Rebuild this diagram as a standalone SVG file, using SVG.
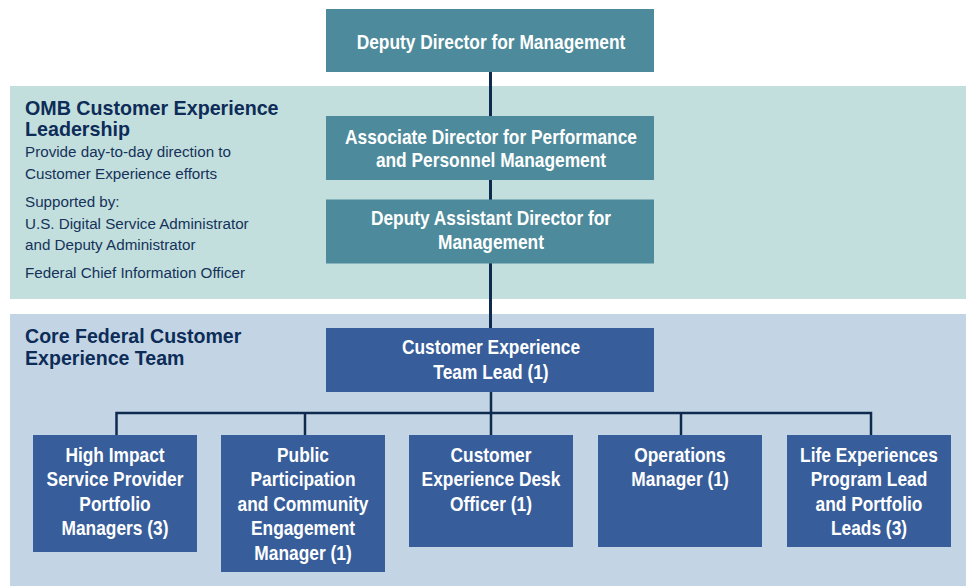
<svg xmlns="http://www.w3.org/2000/svg" width="970" height="586" viewBox="0 0 970 586">
<style>
.band1{fill:#c3dfdd}
.band2{fill:#c3d5e4}
.teal{fill:#4d8a9b}
.blue{fill:#375d9a}
.bt{font-family:"Liberation Sans",Arial,sans-serif;font-weight:bold;font-size:19.5px;fill:#ffffff;text-anchor:middle}
.hd{font-family:"Liberation Sans",Arial,sans-serif;font-weight:bold;font-size:20.5px;fill:#0d2c58}
.rg{font-family:"Liberation Sans",Arial,sans-serif;font-size:15.2px;fill:#15325a}
.ln{stroke:#0f2a4f;stroke-width:3;fill:none}
.ln2{stroke:#0f2a4f;stroke-width:2.5;fill:none}
</style>
<rect width="970" height="586" fill="#ffffff"/>
<g id="band-leadership">
<rect class="band1" x="10" y="86" width="956" height="213"/>
<text class="hd" transform="translate(25,114.5) scale(0.96,1)">OMB Customer Experience</text>
<text class="hd" transform="translate(25,136) scale(0.96,1)">Leadership</text>
<text class="rg"><tspan x="25" y="157">Provide day-to-day direction to</tspan><tspan x="25" y="179">Customer Experience efforts</tspan><tspan x="25" y="206.5">Supported by:</tspan><tspan x="25" y="228.5">U.S. Digital Service Administrator</tspan><tspan x="25" y="250">and Deputy Administrator</tspan><tspan x="25" y="278">Federal Chief Information Officer</tspan></text>
</g>
<g id="band-core">
<rect class="band2" x="10" y="314" width="956" height="272"/>
<text class="hd" transform="translate(25,343) scale(0.955,1)">Core Federal Customer</text>
<text class="hd" transform="translate(25,364.5) scale(0.955,1)">Experience Team</text>
</g>
<g id="connectors">
<line class="ln" x1="490.5" y1="72" x2="490.5" y2="116"/>
<line class="ln" x1="490.5" y1="180" x2="490.5" y2="200"/>
<line class="ln" x1="490.5" y1="263" x2="490.5" y2="328"/>
<line class="ln2" x1="491" y1="392" x2="491" y2="435"/>
<polyline class="ln2" points="116.5,435 116.5,413 871,413 871,435"/>
<line class="ln2" x1="305" y1="413" x2="305" y2="435"/>
<line class="ln2" x1="681" y1="413" x2="681" y2="435"/>
</g>
<g id="deputy-director">
<rect class="teal" x="326" y="9" width="328" height="63"/>
<text class="bt" transform="translate(491,49) scale(0.89,1)">Deputy Director for Management</text>
</g>
<g id="associate-director">
<rect class="teal" x="326" y="116" width="328" height="64"/>
<text class="bt" transform="translate(491,143.5) scale(0.89,1)"><tspan x="0" y="0">Associate Director for Performance</tspan><tspan x="0" y="24">and Personnel Management</tspan></text>
</g>
<g id="deputy-assistant-director">
<rect class="teal" x="326" y="199.5" width="328" height="64"/>
<text class="bt" transform="translate(491,224.5) scale(0.89,1)"><tspan x="0" y="0">Deputy Assistant Director for</tspan><tspan x="0" y="24.5">Management</tspan></text>
</g>
<g id="team-lead">
<rect class="blue" x="326" y="328" width="328" height="64"/>
<text class="bt" transform="translate(491,354) scale(0.89,1)"><tspan x="0" y="0">Customer Experience</tspan><tspan x="0" y="25">Team Lead (1)</tspan></text>
</g>
<g id="high-impact">
<rect class="blue" x="33" y="435" width="164" height="117"/>
<text class="bt" transform="translate(115,462) scale(0.89,1)"><tspan x="0" y="0">High Impact</tspan><tspan x="0" y="24.5">Service Provider</tspan><tspan x="0" y="49">Portfolio</tspan><tspan x="0" y="73.5">Managers (3)</tspan></text>
</g>
<g id="public-participation">
<rect class="blue" x="221" y="435" width="164" height="137"/>
<text class="bt" transform="translate(303,462) scale(0.89,1)"><tspan x="0" y="0">Public</tspan><tspan x="0" y="24.5">Participation</tspan><tspan x="0" y="49">and Community</tspan><tspan x="0" y="73.5">Engagement</tspan><tspan x="0" y="98">Manager (1)</tspan></text>
</g>
<g id="desk-officer">
<rect class="blue" x="409" y="435" width="164" height="112"/>
<text class="bt" transform="translate(491,462) scale(0.89,1)"><tspan x="0" y="0">Customer</tspan><tspan x="0" y="24.5">Experience Desk</tspan><tspan x="0" y="49">Officer (1)</tspan></text>
</g>
<g id="operations-manager">
<rect class="blue" x="598" y="435" width="164" height="112"/>
<text class="bt" transform="translate(680,462) scale(0.89,1)"><tspan x="0" y="0">Operations</tspan><tspan x="0" y="24.5">Manager (1)</tspan></text>
</g>
<g id="life-experiences">
<rect class="blue" x="787" y="435" width="164" height="112"/>
<text class="bt" transform="translate(869,462) scale(0.89,1)"><tspan x="0" y="0">Life Experiences</tspan><tspan x="0" y="24.5">Program Lead</tspan><tspan x="0" y="49">and Portfolio</tspan><tspan x="0" y="73.5">Leads (3)</tspan></text>
</g>
</svg>
